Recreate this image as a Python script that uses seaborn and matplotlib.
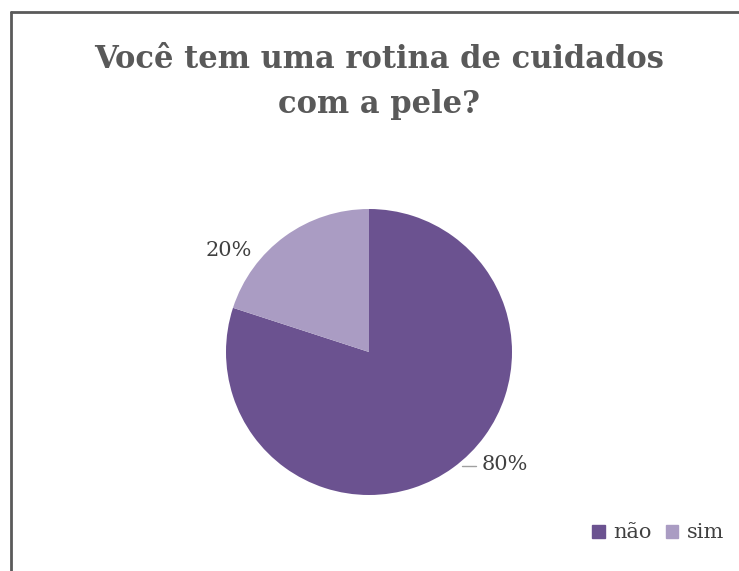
import matplotlib
matplotlib.use("Agg")
import matplotlib.pyplot as plt
import seaborn as sns
from matplotlib.lines import Line2D

categories = ["não", "sim"]
values = [80, 20]
colors = ["#6B5290", "#AA9CC3"]
title = "Você tem uma rotina de cuidados\ncom a pele?"

sns.set_theme(style="white")
plt.rcParams['font.family'] = ['DejaVu Serif']

W, H = 739, 571
fig = plt.figure(figsize=(W / 100, H / 100), dpi=100)
fig.patch.set_facecolor("white")

# border
fig.add_artist(Line2D([10.5 / W, 10.5 / W], [0, 1 - 11.5 / H], transform=fig.transFigure, color="#5a5a5a", lw=2))
fig.add_artist(Line2D([10.5 / W, 1], [1 - 11.5 / H, 1 - 11.5 / H], transform=fig.transFigure, color="#5a5a5a", lw=2))

cx, cy, r = 369, 352, 143
ax = fig.add_axes([(cx - r) / W, (H - cy - r) / H, 2 * r / W, 2 * r / H])
wedges, texts, autotexts = ax.pie(values, colors=colors, startangle=90, counterclock=False,
                                  autopct=lambda p: f"{p:.0f}%", radius=1,
                                  wedgeprops=dict(linewidth=0),
                                  textprops=dict(color="#404040", fontsize=15, family="DejaVu Serif"))
ax.set_xlim(-1, 1)
ax.set_ylim(-1, 1)
ax.set_aspect("auto")
ax.axis("off")

# label placement (best-fit style)
autotexts[0].set_position((0.95, -0.79))
autotexts[1].set_position((-0.98, 0.71))
ax.plot([0.65, 0.75], [-0.80, -0.80], color="#a0a0a0", lw=1, clip_on=False)

fig.text(379.5 / W, 1 - 82 / H, title, ha="center", va="center", fontsize=22, fontweight="bold",
         color="#595959", family="DejaVu Serif", linespacing=1.62)

handles = [plt.Rectangle((0, 0), 1, 1, color=c) for c in colors]
fig.legend(handles, categories, loc="center", bbox_to_anchor=(658 / W, 1 - 533 / H), ncol=2,
           frameon=False, handlelength=0.6, handleheight=0.6, handletextpad=0.4,
           columnspacing=0.7, labelcolor="#404040", prop=dict(family="DejaVu Serif", size=15))

fig.savefig("out.png", dpi=100, facecolor="white")
